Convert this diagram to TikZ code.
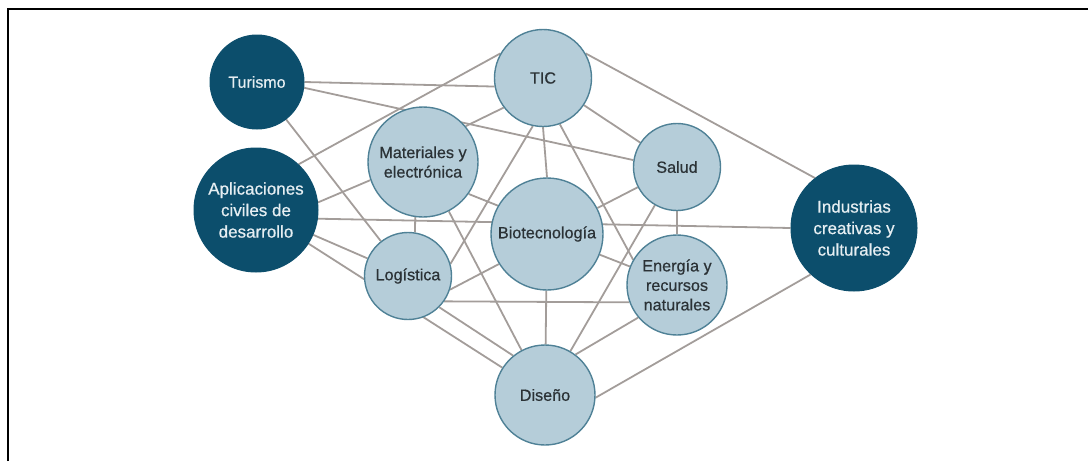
\documentclass[tikz,border=0pt]{standalone}
\usepackage{fontspec}
\setmainfont{Liberation Sans}
\newfontfamily\nodefont[FakeBold=0.6]{Liberation Sans}
\usetikzlibrary{backgrounds}
\definecolor{darkfill}{HTML}{0C4E6C}
\definecolor{lightfill}{HTML}{B5CDD9}
\definecolor{rim}{HTML}{4F8196}
\definecolor{edgecol}{HTML}{A39D9A}
\definecolor{txt}{HTML}{2B3236}
\definecolor{ltxt}{HTML}{E6EEF2}
\tikzset{
  lnode/.style={circle, fill=lightfill, draw=rim, line width=1.4pt, minimum size=#1,
    inner sep=0pt, align=center, text=txt, font=\nodefont\fontsize{16.2}{19.5}\selectfont},
  dnode/.style={circle, fill=darkfill, draw=darkfill, line width=1pt, minimum size=#1,
    inner sep=0pt, align=center, text=ltxt, font=\nodefont\fontsize{17}{21.5}\selectfont},
  link/.style={draw=edgecol, line width=1.8pt},
}
\begin{document}
\begin{tikzpicture}[x=1pt, y=-1pt]
\useasboundingbox (0,0) rectangle (1088,461);
% frame
\draw[line width=1.6pt, black] (8,461) -- (8,9) -- (1088,9);
% nodes
\node[dnode=94, font=\nodefont\fontsize{16}{20}\selectfont]  (tur) at (257,82)  {Turismo};
\node[lnode=97]  (tic) at (543,78)  {TIC};
\node[lnode=110] (mat) at (423,162) {Materiales y\\electrónica};
\node[dnode=124] (apl) at (256,210) {Aplicaciones\\civiles de\\desarrollo};
\node[lnode=87]  (log) at (408,276) {Logística};
\node[lnode=112] (bio) at (547,234) {Biotecnología};
\node[lnode=87]  (sal) at (677,167) {Salud};
\node[lnode=100] (ene) at (677,285) {Energía y\\recursos\\naturales};
\node[lnode=100] (dis) at (545,395) {Diseño};
\node[dnode=126] (ind) at (854,228) {Industrias\\creativas y\\culturales};
% connectors
\begin{scope}[on background layer]
\draw[link] (tur.0) -- (tic.190);
\draw[link] (tur.-7) -- (sal.171);
\draw[link] (tur) -- (log);
\draw[link] (apl.47) -- (tic.150);
\draw[link] (apl.7) -- (mat.199);
\draw[link] (apl) -- (log);
\draw[link] (apl) -- (dis);
\draw[link] (apl.-8) -- (ind.180);
\draw[link] (mat.40) -- (tic.217);
\draw[link] (mat.-98) -- (log.81);
\draw[link] (mat.-35) -- (bio.150);
\draw[link] (mat) -- (dis);
\draw[link] (tic.south) -- (bio.north);
\draw[link] (tic.258) -- (log.16);
\draw[link] (tic) -- (sal);
\draw[link] (tic.-70) -- (ene.150);
\draw[link] (tic.30) -- (ind.128);
\draw[link] (sal) -- (bio);
\draw[link] (sal) -- (ene);
\draw[link] (sal) -- (dis);
\draw[link] (bio) -- (ene);
\draw[link] (bio) -- (dis);
\draw[link] (log.-18) -- (bio.212);
\draw[link] (log.-35) -- (ene.-160);
\draw[link] (log.-45) -- (dis.129);
\draw[link] (ene.220) -- (dis.53);
\draw[link] (dis.-3) -- (ind.227);
\end{scope}
\end{tikzpicture}
\end{document}
